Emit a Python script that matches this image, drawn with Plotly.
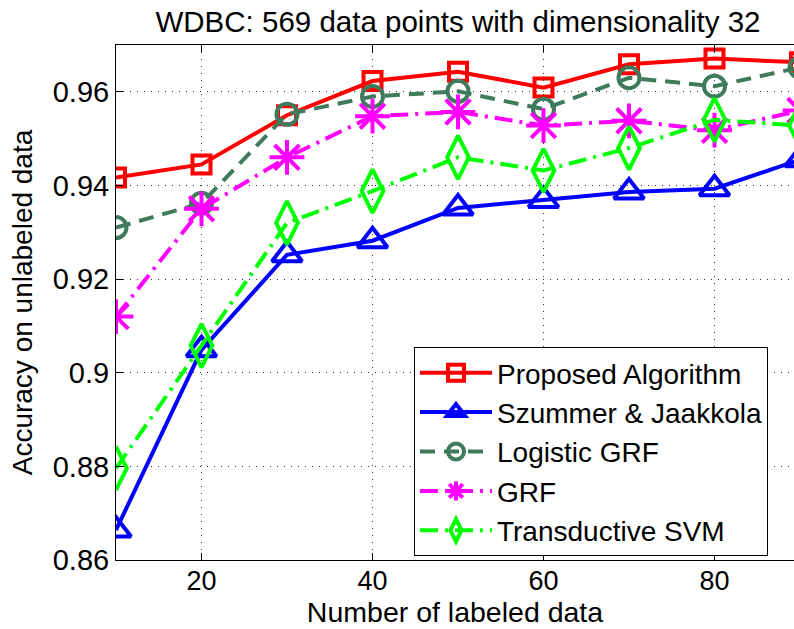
import plotly.graph_objects as go

x_labeled = [10, 20, 30, 40, 50, 60, 70, 80, 90]

proposed = [0.9417, 0.9445, 0.9550, 0.9623, 0.9643, 0.9609, 0.9659, 0.9671, 0.9663]
szummer = [0.8664, 0.9049, 0.9252, 0.9282, 0.9352, 0.9368, 0.9386, 0.9393, 0.9455]
logistic_grf = [0.9310, 0.9362, 0.9552, 0.9590, 0.9601, 0.9563, 0.9630, 0.9612, 0.9652]
grf = [0.9120, 0.9350, 0.9460, 0.9548, 0.9557, 0.9528, 0.9538, 0.9518, 0.9560]
tsvm = [0.8796, 0.9058, 0.9320, 0.9388, 0.9460, 0.9432, 0.9480, 0.9540, 0.9528]

series_names = ["Proposed Algorithm", "Szummer & Jaakkola", "Logistic GRF", "GRF", "Transductive SVM"]
y_ticks = [0.86, 0.88, 0.90, 0.92, 0.94, 0.96]
y_tick_labels = ["0.86", "0.88", "0.9", "0.92", "0.94", "0.96"]
x_ticks = [20, 40, 60, 80]

styles = [
    dict(color="#ff0000", dash="solid", symbol="square-open", size=18),
    dict(color="#0000ff", dash="solid", symbol="triangle-up-open", size=26),
    dict(color="#3f7a5c", dash="15px,9px", symbol="circle-open", size=21),
    dict(color="#ff00ff", dash="18px,7px,3px,7px", symbol="asterisk-open", size=29),
    dict(color="#00ff00", dash="18px,7px,3px,7px", symbol="diamond-tall-open", size=31),
]

fig = go.Figure()
for name, vals, st in zip(series_names, [proposed, szummer, logistic_grf, grf, tsvm], styles):
    fig.add_trace(go.Scatter(
        x=x_labeled, y=vals, name=name, mode="lines+markers",
        line=dict(color=st["color"], width=4, dash=st["dash"]),
        marker=dict(symbol=st["symbol"], size=st["size"], color=st["color"],
                    line=dict(color=st["color"], width=4)),
        cliponaxis=True,
    ))

font_family = "Liberation Sans, Arial, sans-serif"
fig.update_layout(
    width=794, height=629,
    paper_bgcolor="white", plot_bgcolor="white",
    margin=dict(l=116, r=0, t=45, b=69, autoexpand=False),
    font=dict(family=font_family, size=28, color="black"),
    title=dict(text="WDBC: 569 data points with dimensionality 32", x=458/794, xref="container",
               xanchor="center", y=1 - 22/629, yref="container", yanchor="middle",
               font=dict(size=29.5, color="black")),
    showlegend=True,
    legend=dict(x=0.4395, y=0.4136, xanchor="left", yanchor="top",
                bgcolor="white", bordercolor="black", borderwidth=1,
                font=dict(size=28), itemwidth=72, tracegroupgap=0),
)
fig.update_xaxes(
    range=[10, 10 + (794 - 116) / 85.5 * 10],
    tickvals=x_ticks, ticks="inside", ticklen=7, tickcolor="black",
    showline=True, linecolor="black", linewidth=1, mirror="ticks",
    showgrid=True, gridcolor="#333333", gridwidth=1, griddash="1px,6px",
    zeroline=False, tickfont=dict(size=27), ticklabelstandoff=-3,
    title=dict(text="Number of labeled data", font=dict(size=28.5), standoff=0),
)
fig.update_yaxes(
    range=[0.86, 0.97],
    tickvals=y_ticks, ticktext=y_tick_labels, ticks="inside", ticklen=7, tickcolor="black",
    showline=True, linecolor="black", linewidth=1, mirror=False,
    showgrid=True, gridcolor="#333333", gridwidth=1, griddash="1px,6px",
    zeroline=False, tickfont=dict(size=29),
    title=dict(text="Accuracy on unlabeled data", font=dict(size=28), standoff=11),
)

fig.write_html("out.html", config={"displayModeBar": False},
               post_script="document.body.style.margin='0px';document.body.style.overflow='hidden';")
